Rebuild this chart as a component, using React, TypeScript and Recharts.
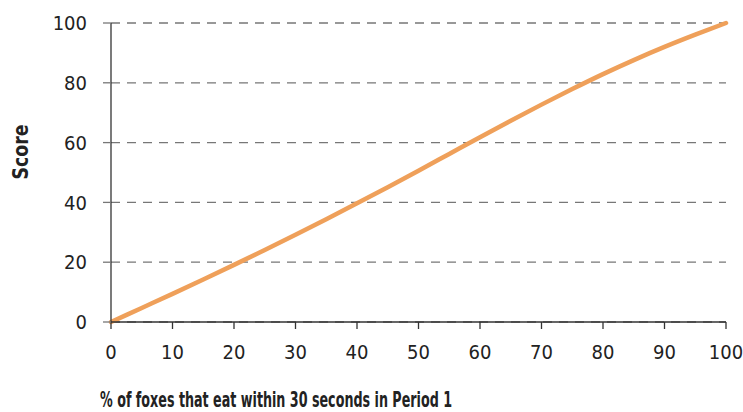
import React from 'react'
import { LineChart, Line, XAxis, YAxis, CartesianGrid, Label } from 'recharts'

const percentEating = [0, 5, 10, 15, 20, 25, 30, 35, 40, 45, 50, 55, 60, 65, 70, 75, 80, 85, 90, 95, 100]
const scores = [0, 4.7, 9.4, 14.2, 19.1, 24.1, 29.2, 34.4, 39.7, 45.1, 50.6, 56.2, 61.8, 67.3, 72.7, 77.9, 82.9, 87.6, 92, 96.1, 100]

const xTicks = [0, 10, 20, 30, 40, 50, 60, 70, 80, 90, 100]
const yTicks = [0, 20, 40, 60, 80, 100]

const xTitle = '% of foxes that eat within 30 seconds in Period 1'
const yTitle = 'Score'

const FONT = '"DejaVu Sans Condensed", "Liberation Sans Narrow", sans-serif'

const chartData = percentEating.map((x, i) => ({ x, score: scores[i] }))

const App = () => {
    return (
        <div style={{ position: 'absolute', left: 0, top: 0, background: '#fff' }}>
            <LineChart
                width={743}
                height={412}
                data={chartData}
                margin={{ top: 23, right: 17, left: 0, bottom: 0 }}
            >
                <CartesianGrid
                    vertical={false}
                    stroke='#777'
                    strokeWidth={1.3}
                    strokeDasharray='9 7'
                />
                <XAxis
                    dataKey='x'
                    type='number'
                    domain={[0, 100]}
                    ticks={xTicks}
                    height={90}
                    tickSize={7}
                    tickMargin={16}
                    axisLine={{ stroke: '#333', strokeWidth: 1.3 }}
                    tickLine={{ stroke: '#333', strokeWidth: 1.3 }}
                    tick={{ fill: '#222', fontSize: 20, fontFamily: FONT }}
                >
                    <Label
                        content={() => (
                            <text
                                x={276}
                                y={407}
                                textAnchor='middle'
                                fontFamily={FONT}
                                fontWeight='bold'
                                fontSize={21}
                                textLength={352}
                                lengthAdjust='spacingAndGlyphs'
                                fill='#222'
                            >
                                {xTitle}
                            </text>
                        )}
                    />
                </XAxis>
                <YAxis
                    type='number'
                    domain={[0, 100]}
                    ticks={yTicks}
                    width={111}
                    tickSize={8}
                    tickMargin={16}
                    axisLine={{ stroke: '#333', strokeWidth: 1.3 }}
                    tickLine={{ stroke: '#777', strokeWidth: 1.3 }}
                    tick={{ fill: '#222', fontSize: 20, fontFamily: FONT }}
                >
                    <Label
                        content={() => (
                            <text
                                x={28}
                                y={152}
                                transform='rotate(-90 28 152)'
                                textAnchor='middle'
                                fontFamily={FONT}
                                fontWeight='bold'
                                fontSize={21}
                                textLength={55}
                                lengthAdjust='spacingAndGlyphs'
                                fill='#222'
                            >
                                {yTitle}
                            </text>
                        )}
                    />
                </YAxis>
                <Line
                    type='monotone'
                    dataKey='score'
                    stroke='#EFA05A'
                    strokeWidth={4.5}
                    strokeLinecap='round'
                    dot={false}
                    isAnimationActive={false}
                />
            </LineChart>
        </div>
    )
}

export default App
